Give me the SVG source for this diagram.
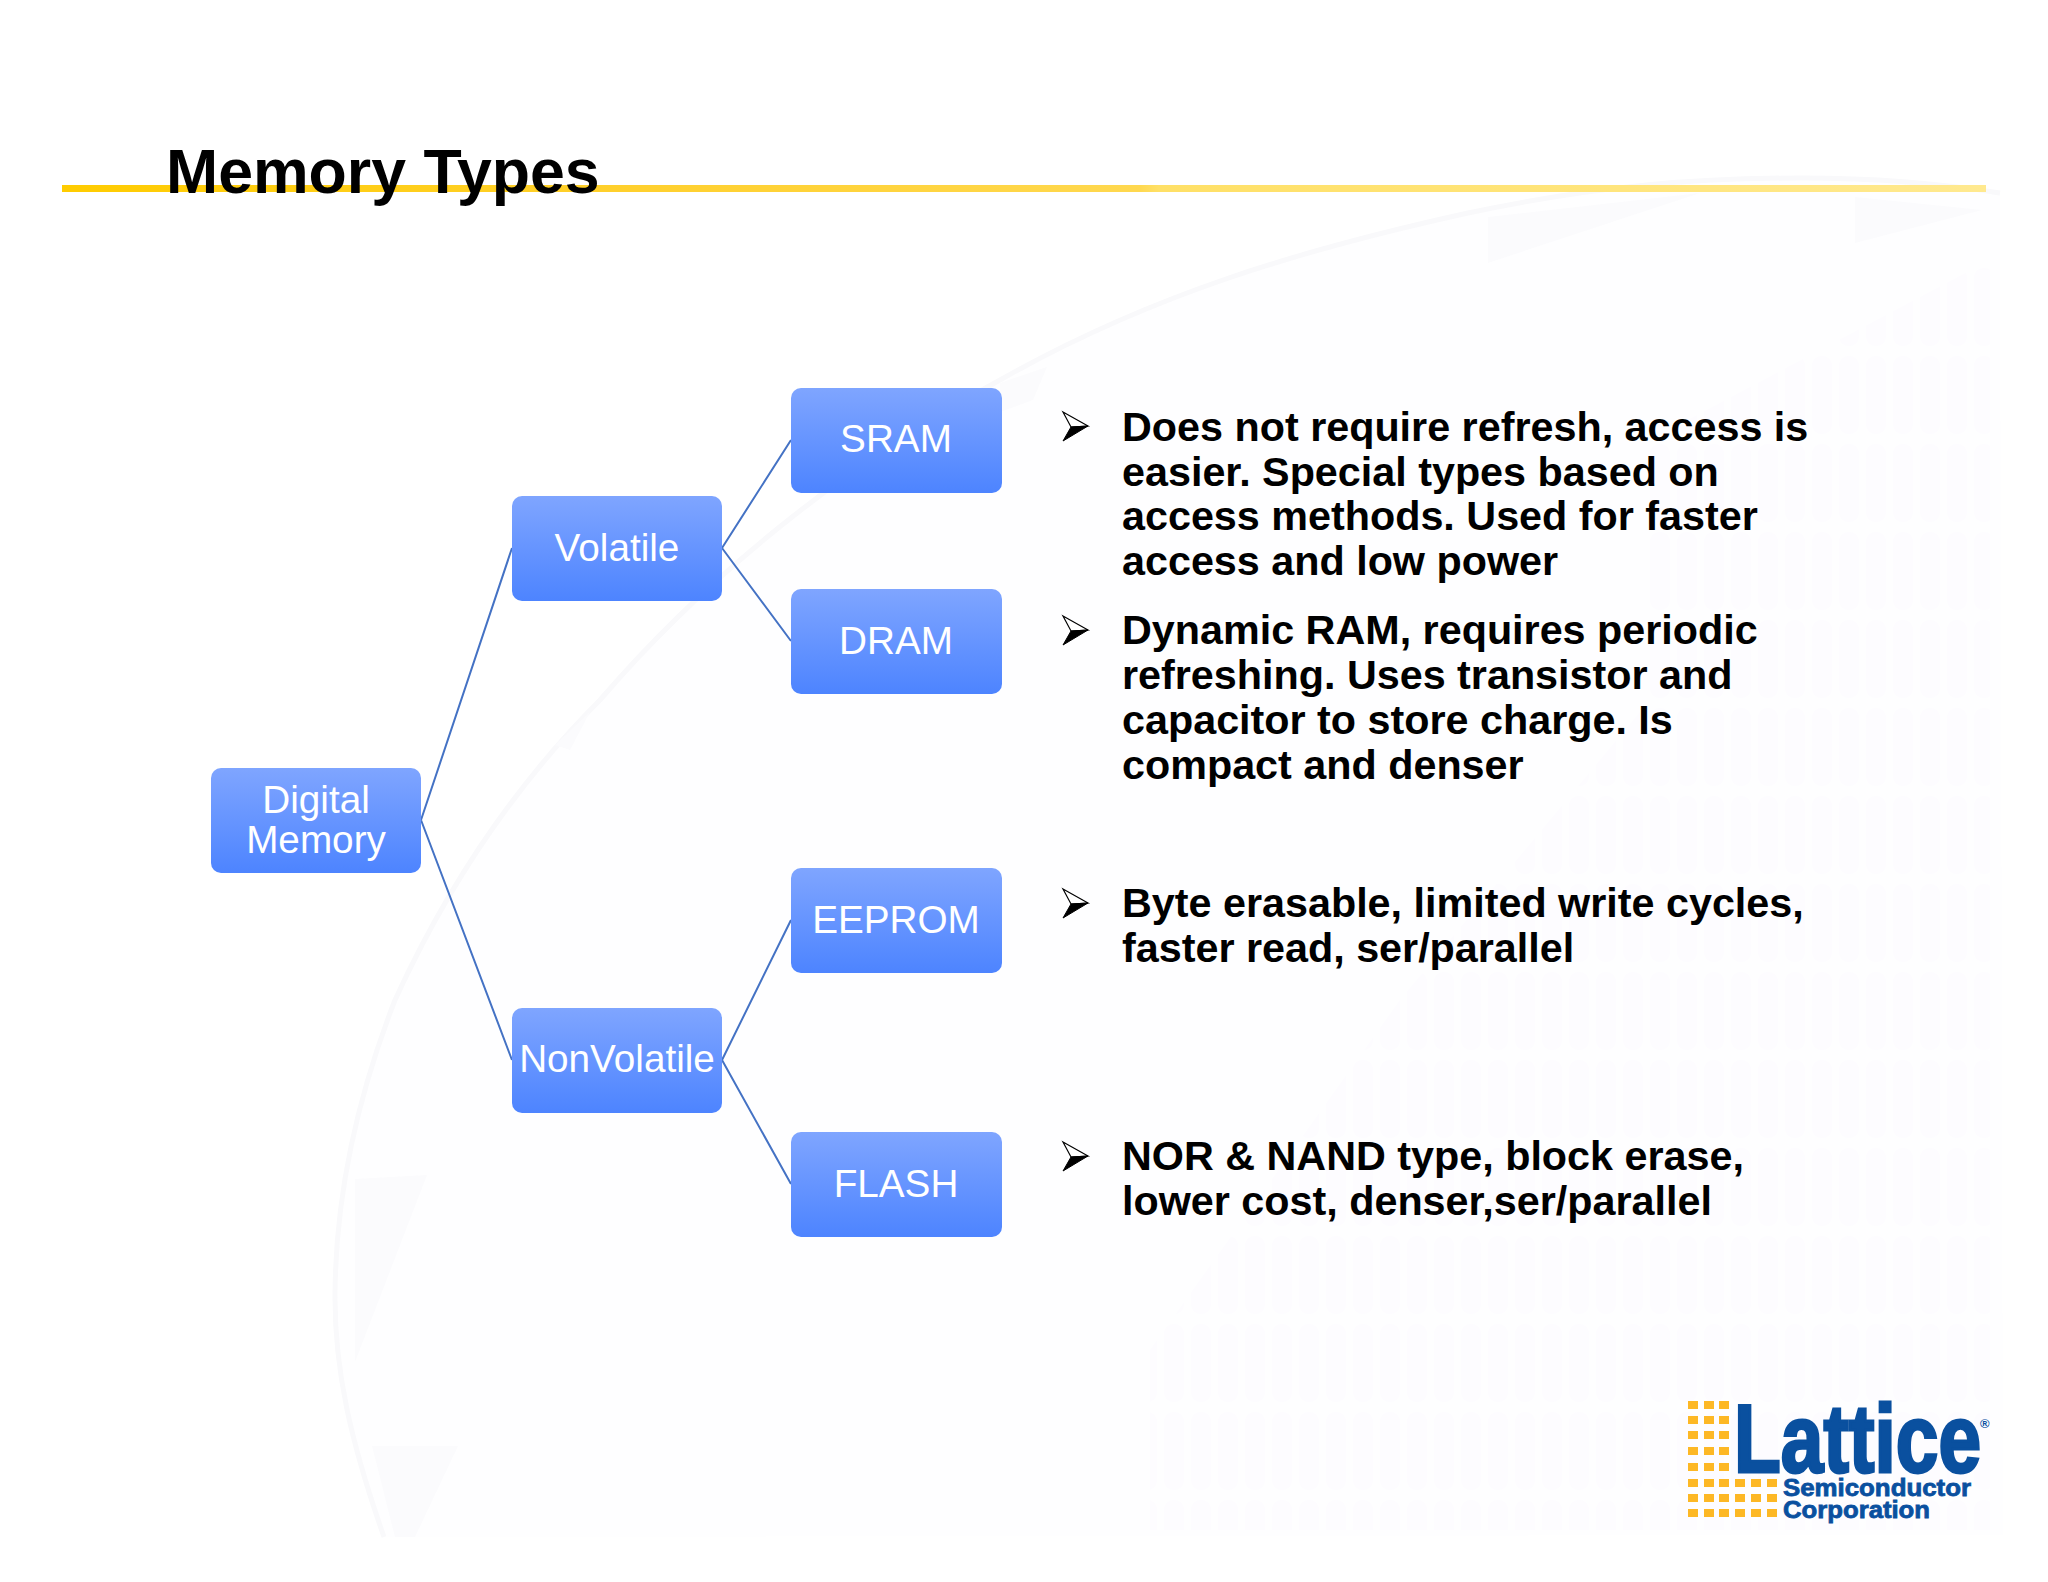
<svg xmlns="http://www.w3.org/2000/svg" width="2048" height="1582" viewBox="0 0 2048 1582">
<defs>
<linearGradient id="boxg" x1="0" y1="0" x2="0" y2="1"><stop offset="0" stop-color="#7fa5ff"/><stop offset="1" stop-color="#4d84ff"/></linearGradient>
<linearGradient id="rule" x1="0" y1="0" x2="1" y2="0"><stop offset="0" stop-color="#ffcc00"/><stop offset="0.3" stop-color="#ffd02e"/><stop offset="0.56" stop-color="#ffd84f"/><stop offset="0.57" stop-color="#ffe066"/><stop offset="1" stop-color="#ffe98f"/></linearGradient>
<g id="bul"><path d="M0 0 L25 14 L8 15 Z" fill="#fff" stroke="#000" stroke-width="1.2"/><path d="M0 29 L25 14 L8 15 Z" fill="#000" stroke="#000" stroke-width="1"/></g>
<rect id="sq" width="10" height="8"/>
<pattern id="bars" width="27" height="88" patternUnits="userSpaceOnUse"><rect x="3" y="4" width="20" height="78" rx="9" fill="#fdfcff"/></pattern>
</defs>
<style>
.n{fill:url(#boxg)}
.nt{font:400 38.7px "Liberation Sans",Arial,sans-serif;fill:#fff;text-anchor:middle}
.t{font:700 41.3px "Liberation Sans",Arial,sans-serif;fill:#000}
.c{stroke:#4472c4;stroke-width:2;fill:none}
.wm{fill:#fbfbfd}
.sq{fill:#fdb825}
.lg{font-family:"Liberation Sans",Arial,sans-serif;font-weight:700;fill:#0a509f}
</style>
<rect width="2048" height="1582" fill="#fff"/>
<g id="watermark">
<path id="disk" d="M384 1537 C350 1440 335 1370 335 1298 C335 1190 360 1090 395 1000 C450 880 520 780 600 700 C720 560 870 450 1000 380 C1150 295 1300 250 1468 213 C1600 185 1700 178 1802 178 C1880 178 1950 185 2000 193 L2003 1535 Z" fill="#fefeff"/>
<path d="M1650 440 L1990 260 L1990 1530 L1150 1530 L1150 1350 L1400 1000 L1650 700 Z" fill="url(#bars)"/>
<path d="M384 1537 C350 1440 335 1370 335 1298 C335 1190 360 1090 395 1000 C450 880 520 780 600 700 C720 560 870 450 1000 380 C1150 295 1300 250 1468 213 C1600 185 1700 178 1802 178 C1880 178 1950 185 2000 193" fill="none" stroke="#f9f9fb" stroke-width="5"/>
<path class="wm" d="M1488 217 L1700 193 L1488 263 Z M1855 197 L1982 210 L1855 243 Z M1000 383 L1047 367 L1033 400 L1000 412 Z M555 745 L590 712 L570 750 Z M355 1179 L427 1175 L355 1362 Z M372 1446 L458 1446 L415 1537 L395 1537 Z"/>
</g>
<rect x="62" y="185" width="1924" height="7" fill="url(#rule)"/>
<text x="166" y="193" style="font:700 62.6px 'Liberation Sans',Arial,sans-serif;fill:#000">Memory Types</text>
<g id="connectors">
<path class="c" d="M421 820 L512 548 M421 820 L512 1060 M722 548 L791 440 M722 548 L791 641 M722 1060 L791 920 M722 1060 L791 1184"/>
</g>
<g id="digital"><rect class="n" x="211" y="768" width="210" height="105" rx="10"/><text class="nt" x="316" y="813">Digital</text><text class="nt" x="316" y="853">Memory</text></g>
<g id="volatile"><rect class="n" x="512" y="496" width="210" height="105" rx="10"/><text class="nt" x="617" y="561">Volatile</text></g>
<g id="nonvolatile"><rect class="n" x="512" y="1008" width="210" height="105" rx="10"/><text class="nt" x="617" y="1072">NonVolatile</text></g>
<g id="sram"><rect class="n" x="791" y="388" width="211" height="105" rx="10"/><text class="nt" x="896" y="452">SRAM</text></g>
<g id="dram"><rect class="n" x="791" y="589" width="211" height="105" rx="10"/><text class="nt" x="896" y="654">DRAM</text></g>
<g id="eeprom"><rect class="n" x="791" y="868" width="211" height="105" rx="10"/><text class="nt" x="896" y="933">EEPROM</text></g>
<g id="flash"><rect class="n" x="791" y="1132" width="211" height="105" rx="10"/><text class="nt" x="896" y="1197">FLASH</text></g>
<g id="bullets">
<use href="#bul" x="1063" y="412"/><use href="#bul" x="1063" y="616"/><use href="#bul" x="1063" y="889"/><use href="#bul" x="1063" y="1142"/>
</g>
<g id="text1"><text class="t" x="1122" y="441">Does not require refresh, access is</text><text class="t" x="1122" y="486">easier. Special types based on</text><text class="t" x="1122" y="530">access methods. Used for faster</text><text class="t" x="1122" y="575">access and low power</text></g>
<g id="text2"><text class="t" x="1122" y="644">Dynamic RAM, requires periodic</text><text class="t" x="1122" y="689">refreshing. Uses transistor and</text><text class="t" x="1122" y="734">capacitor to store charge. Is</text><text class="t" x="1122" y="779">compact and denser</text></g>
<g id="text3"><text class="t" x="1122" y="917">Byte erasable, limited write cycles,</text><text class="t" x="1122" y="962">faster read, ser/parallel</text></g>
<g id="text4"><text class="t" x="1122" y="1170">NOR &amp; NAND type, block erase,</text><text class="t" x="1122" y="1215">lower cost, denser,ser/parallel</text></g>
<g id="logo">
<g class="sq">
<use href="#sq" x="1688" y="1401"/><use href="#sq" x="1704" y="1401"/><use href="#sq" x="1719" y="1401"/>
<use href="#sq" x="1688" y="1416"/><use href="#sq" x="1704" y="1416"/><use href="#sq" x="1719" y="1416"/>
<use href="#sq" x="1688" y="1431"/><use href="#sq" x="1704" y="1431"/><use href="#sq" x="1719" y="1431"/>
<use href="#sq" x="1688" y="1447"/><use href="#sq" x="1704" y="1447"/><use href="#sq" x="1719" y="1447"/>
<use href="#sq" x="1688" y="1463"/><use href="#sq" x="1704" y="1463"/><use href="#sq" x="1719" y="1463"/>
<use href="#sq" x="1688" y="1479"/><use href="#sq" x="1704" y="1479"/><use href="#sq" x="1719" y="1479"/><use href="#sq" x="1735" y="1479"/><use href="#sq" x="1751" y="1479"/><use href="#sq" x="1767" y="1479"/>
<use href="#sq" x="1688" y="1494"/><use href="#sq" x="1704" y="1494"/><use href="#sq" x="1719" y="1494"/><use href="#sq" x="1735" y="1494"/><use href="#sq" x="1751" y="1494"/><use href="#sq" x="1767" y="1494"/>
<use href="#sq" x="1688" y="1509"/><use href="#sq" x="1704" y="1509"/><use href="#sq" x="1719" y="1509"/><use href="#sq" x="1735" y="1509"/><use href="#sq" x="1751" y="1509"/><use href="#sq" x="1767" y="1509"/>
</g>
<text class="lg" x="1734" y="1472" font-size="96" textLength="247" lengthAdjust="spacingAndGlyphs" stroke="#0a509f" stroke-width="3">Lattice</text>
<text class="lg" x="1980" y="1428" font-size="13">®</text>
<text class="lg" x="1783" y="1496" font-size="24" textLength="188" lengthAdjust="spacingAndGlyphs" stroke="#0a509f" stroke-width=".8">Semiconductor</text>
<text class="lg" x="1783" y="1518" font-size="24" textLength="147" lengthAdjust="spacingAndGlyphs" stroke="#0a509f" stroke-width=".8">Corporation</text>
</g>
</svg>
